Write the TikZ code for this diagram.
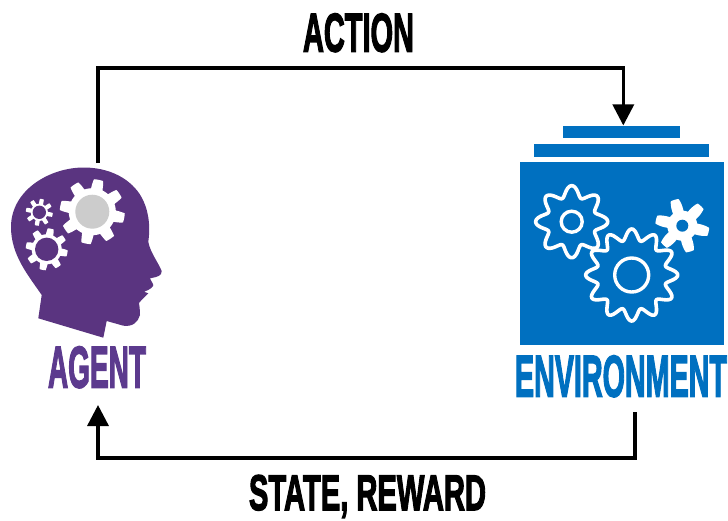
\documentclass[tikz,border=0pt]{standalone}
\usepackage{fontspec}
\usepackage{graphicx}
\usetikzlibrary{arrows.meta}
\newfontfamily\condfont[FakeBold=3]{Liberation Sans Bold}
\definecolor{agentpurple}{HTML}{5A3480}
\definecolor{agenttext}{HTML}{5C3A8E}
\definecolor{envblue}{HTML}{0070C0}
\definecolor{hubgrey}{HTML}{CCCCCC}
\newcommand{\lbl}[3]{\resizebox{#1pt}{#2pt}{\condfont #3}}
% square-ish gear: cx cy body amp teeth phase
\newcommand{\sqgear}[6]{\fill[white] plot[domain=0:360,samples=361] ({#1+(#3+#4*max(-1,min(1,2.5*sin(#5*\x+#6))))*cos(\x)},{#2+(#3+#4*max(-1,min(1,2.5*sin(#5*\x+#6))))*sin(\x)}) -- cycle;}
% wavy outline gear
\newcommand{\wavegear}[6]{\draw[white,line width=3.6pt,line join=round] plot[domain=0:360,samples=361] ({#1+(#3+#4*sin(#5*\x+#6))*cos(\x)},{#2+(#3+#4*sin(#5*\x+#6))*sin(\x)}) -- cycle;}
\tikzset{
  flow/.style={draw=black,line width=3.4pt,-{Triangle[length=21pt,width=21pt]}},
  envbar/.style={fill=envblue,inner sep=0pt,minimum height=12.7pt},
  captext/.style={inner sep=0pt,anchor=base}
}
\begin{document}
\begin{tikzpicture}[x=1pt,y=-1pt]
\useasboundingbox (0,0) rectangle (728,520);
% head
\fill[agentpurple] (38.3,318.3) -- (103.3,337.7) -- (106.7,321) -- (123.3,325.7)
  .. controls (133,327) and (138,322) .. (140,315)
  .. controls (140,308) and (139,304) .. (139,303)
  .. controls (143,298) and (146,296) .. (148.3,293.3)
  -- (144,291.7) .. controls (150,290) and (154,286) .. (153.3,285)
  .. controls (152,281) and (150,280) .. (150,278.3)
  .. controls (157,277) and (162,276) .. (161.7,271)
  .. controls (158,262) and (150,252) .. (148.3,241.7)
  .. controls (150,230) and (150,215) .. (143,200)
  .. controls (135,183) and (115,168) .. (85,167.5)
  .. controls (50,167) and (11,190) .. (11,227)
  .. controls (11,255) and (28,275) .. (41.7,295) -- cycle;
\coordinate (headtop) at (98,163);
\coordinate (headarrow) at (98,405);
% agent gears
\sqgear{92.3}{211.7}{28}{4.5}{8}{0}
\fill[hubgrey] (92.3,211.7) circle[radius=17];
\sqgear{39.3}{212.3}{11}{2.5}{8}{0}
\fill[agentpurple] (39.3,212.3) circle[radius=6.7];
\sqgear{46.7}{249.3}{18}{3}{8}{0}
\fill[agentpurple] (46.7,249.3) circle[radius=11.7];
% environment
\node[fill=envblue,inner sep=0pt,minimum width=204pt,minimum height=182.7pt] (envbox) at (622,253.6) {};
\node[envbar,minimum width=175pt] (envmid) at (621.8,150.3) {};
\node[envbar,minimum width=117.3pt] (envtop) at (621.3,132) {};
\wavegear{571.7}{221.7}{30.5}{5.5}{8}{90}
\draw[white,line width=3.4pt] (571.7,221.7) circle[radius=10.5];
\wavegear{631.7}{275}{40.5}{5.5}{12}{90}
\draw[white,line width=3.4pt] (631.7,275) circle[radius=17];
\fill[white] plot[domain=0:360,samples=361] ({682.3+(21+6*max(-1,min(1,1.6*sin(6*\x+10))))*cos(\x)},{225.7+(21+6*max(-1,min(1,1.6*sin(6*\x+10))))*sin(\x)}) -- cycle;
\fill[envblue] (682.3,225.7) circle[radius=6];
% texts
\node[captext] (action) at (358.5,51.5) {\lbl{111}{38}{ACTION}};
\node[captext,text=agenttext] (agent) at (97,387.5) {\lbl{98}{41}{AGENT}};
\node[captext,text=envblue] (environment) at (621,396.5) {\lbl{212}{41}{ENVIRONMENT}};
\node[captext] (state) at (367.5,510) {\lbl{237}{35}{STATE, REWARD}};
% connectors
\coordinate (topcorner) at (headtop |- 0,68);
\coordinate (botstart) at (635,412);
\coordinate (botcorner) at (botstart |- 0,458);
\draw[flow,line join=miter] (headtop) -- (topcorner) -| ([xshift=2pt]envtop.north);
\draw[flow,line join=miter] (botstart) -- (botcorner) -| (headarrow);
\end{tikzpicture}
\end{document}
